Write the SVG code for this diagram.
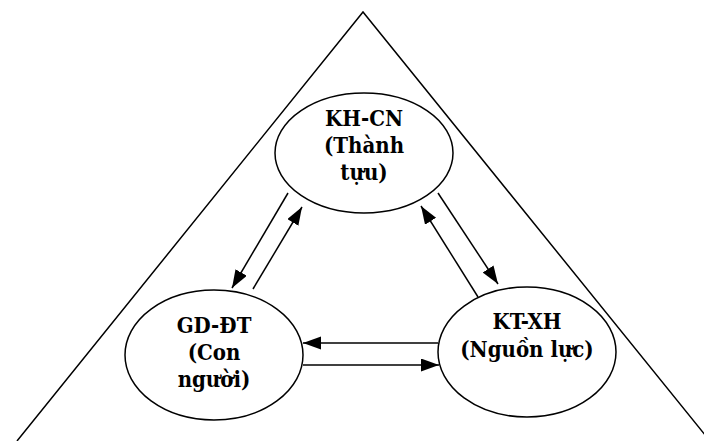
<svg xmlns="http://www.w3.org/2000/svg" width="704" height="441" viewBox="0 0 704 441">
<style>
.ln{stroke:#000;stroke-width:1.5;fill:none}
.nd{stroke:#000;stroke-width:1.5;fill:#fff}
.tx{font-family:"DejaVu Serif Condensed","DejaVu Serif",serif;font-stretch:condensed;font-weight:700;font-size:22px;text-anchor:middle;fill:#000}
</style>
<defs>
<marker id="ah" markerUnits="userSpaceOnUse" markerWidth="19" markerHeight="14" refX="18" refY="6.5" orient="auto">
<path d="M0,0 L18,6.5 L0,13 z" fill="#000"/>
</marker>
</defs>
<rect width="704" height="441" fill="#fff"/>
<polyline class="ln" points="17,441 363,12 710,441"/>
<g id="connectors">
<line class="ln" x1="288" y1="193" x2="232" y2="288" marker-end="url(#ah)"/>
<line class="ln" x1="253" y1="289" x2="302" y2="207" marker-end="url(#ah)"/>
<line class="ln" x1="438" y1="193" x2="498" y2="284" marker-end="url(#ah)"/>
<line class="ln" x1="478" y1="297" x2="421" y2="206" marker-end="url(#ah)"/>
<line class="ln" x1="438" y1="343" x2="303" y2="343" marker-end="url(#ah)"/>
<line class="ln" x1="303" y1="365" x2="439" y2="365" marker-end="url(#ah)"/>
</g>
<g id="khcn">
<ellipse class="nd" cx="364" cy="153" rx="89" ry="60"/>
<text class="tx" x="364" y="126">KH-CN</text>
<text class="tx" x="364" y="153">(Thành</text>
<text class="tx" x="364" y="180">tựu)</text>
</g>
<g id="gddt">
<ellipse class="nd" cx="214" cy="355" rx="89" ry="65"/>
<text class="tx" x="214" y="333">GD-ĐT</text>
<text class="tx" x="214" y="360">(Con</text>
<text class="tx" x="214" y="387">người)</text>
</g>
<g id="ktxh">
<ellipse class="nd" cx="527" cy="352" rx="89" ry="65"/>
<text class="tx" x="527" y="329">KT-XH</text>
<text class="tx" x="527" y="357">(Nguồn lực)</text>
</g>
</svg>
